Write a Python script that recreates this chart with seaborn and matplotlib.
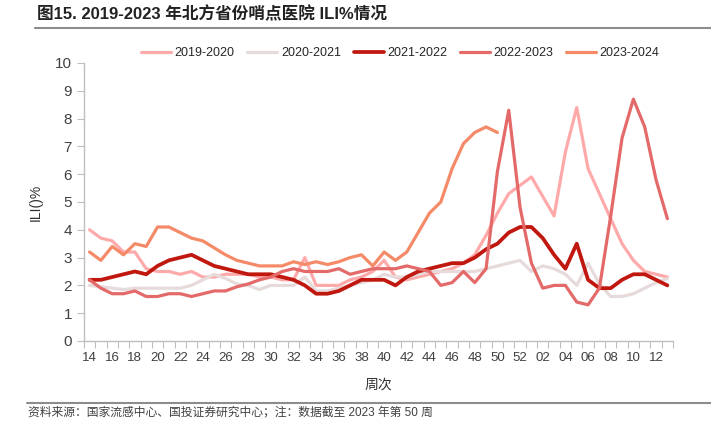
import numpy as np
import pandas as pd
import matplotlib
matplotlib.use("Agg")
import matplotlib.pyplot as plt
from matplotlib.lines import Line2D
import seaborn as sns

# week order: 14..52 then 01..13
weeks = [f"{w:02d}" for w in list(range(14, 53)) + list(range(1, 14))]
seasons = ["2019-2020", "2020-2021", "2021-2022", "2022-2023", "2023-2024"]

s1920 = [4.0, 3.7, 3.6, 3.2, 3.2, 2.6, 2.5, 2.5, 2.4, 2.5, 2.3,
         2.3, 2.4, 2.4, 2.4, 2.3, 2.3, 2.2, 2.2, 3.0, 2.0,
         2.0, 2.0, 2.2, 2.3, 2.5, 2.9, 2.3, 2.2, 2.3, 2.4,
         2.5, 2.6, 2.8, 3.1, 3.8, 4.6, 5.3, 5.6,
         5.9, 5.2, 4.5, 6.8, 8.4, 6.2, 5.3, 4.4, 3.5, 2.9, 2.5, 2.4, 2.3]
s2021 = [2.0, 1.95, 1.9, 1.85, 1.9, 1.9, 1.9, 1.9, 1.9, 2.0, 2.2,
         2.4, 2.25, 2.05, 2.0, 1.85, 2.0, 2.0, 2.0, 2.3, 1.8,
         1.8, 1.9, 2.0, 2.1, 2.2, 2.4, 2.3, 2.3, 2.4, 2.5,
         2.5, 2.5, 2.5, 2.5, 2.6, 2.7, 2.8, 2.9,
         2.5, 2.7, 2.6, 2.4, 2.0, 2.8, 2.05, 1.6, 1.6, 1.7, 1.9, 2.1, 2.25]
s2122 = [2.2, 2.2, 2.3, 2.4, 2.5, 2.4, 2.7, 2.9, 3.0, 3.1, 2.9,
         2.7, 2.6, 2.5, 2.4, 2.4, 2.4, 2.3, 2.2, 2.0, 1.7,
         1.7, 1.8, 2.0, 2.2, 2.2, 2.2, 2.0, 2.3, 2.5, 2.6,
         2.7, 2.8, 2.8, 3.0, 3.3, 3.5, 3.9, 4.1,
         4.1, 3.7, 3.1, 2.6, 3.5, 2.2, 1.9, 1.9, 2.2, 2.4, 2.4, 2.2, 2.0]
s2223 = [2.2, 1.9, 1.7, 1.7, 1.8, 1.6, 1.6, 1.7, 1.7, 1.6, 1.7,
         1.8, 1.8, 1.95, 2.05, 2.2, 2.3, 2.5, 2.6, 2.5, 2.5,
         2.5, 2.6, 2.4, 2.5, 2.6, 2.6, 2.6, 2.7, 2.6, 2.5,
         2.0, 2.1, 2.5, 2.1, 2.6, 6.1, 8.3, 4.8,
         2.8, 1.9, 2.0, 2.0, 1.4, 1.3, 1.9, 4.5, 7.3, 8.7, 7.7, 5.8, 4.4]
s2324 = [3.2, 2.9, 3.4, 3.1, 3.5, 3.4, 4.1, 4.1, 3.9, 3.7, 3.6,
         3.35, 3.1, 2.9, 2.8, 2.7, 2.7, 2.7, 2.85, 2.75, 2.85,
         2.75, 2.85, 3.0, 3.1, 2.7, 3.2, 2.9, 3.2, 3.9, 4.6,
         5.0, 6.2, 7.1, 7.5, 7.7, 7.5] + [np.nan] * 15

colors = ["#FFAAAA", "#E6DADA", "#C0180F", "#E46A6A", "#F58A68"]

sns.set_theme(style="white")
plt.rcParams['font.family'] = ['Liberation Sans', 'Noto Sans CJK SC']

rows = []
for name, vals in zip(seasons, [s1920, s2021, s2122, s2223, s2324]):
    for i, v in enumerate(vals):
        rows.append({"pos": i, "ili": v, "season": name})
df = pd.DataFrame(rows).dropna()

fig = plt.figure(figsize=(7.11, 4.38), dpi=100)
ax = fig.add_axes([0.118, 0.2215, 0.8286, 0.6347])

sns.lineplot(data=df, x="pos", y="ili", hue="season", hue_order=seasons,
             palette=colors, linewidth=2.3, errorbar=None, ax=ax)
for line in ax.lines:
    if line.get_color().upper() == "#C0180F":
        line.set_linewidth(2.7)

ax.set_xlim(-0.5, len(weeks) - 0.5)
ax.set_ylim(0, 10)
ax.set_yticks(range(0, 11))
ax.set_xticks(range(0, len(weeks), 2))
ax.set_xticklabels(weeks[::2])
ax.set_xticks(np.arange(-0.5, len(weeks), 1), minor=True)
ax.tick_params(axis="x", which="major", length=0, labelsize=9.5, pad=8, colors="#404040")
ax.tick_params(axis="x", which="minor", length=5, width=0.8, color="#BFBFBF", bottom=True)
ax.tick_params(axis="y", length=5, width=0.8, color="#BFBFBF", labelsize=11,
               labelcolor="#404040", left=True)

for s in ["top", "right"]:
    ax.spines[s].set_visible(False)
for s in ["left", "bottom"]:
    ax.spines[s].set_color("#BFBFBF")
    ax.spines[s].set_linewidth(1)

ax.set_xlabel("周次", fontsize=10, color="#303030")
ax.xaxis.set_label_coords(0.5, -0.133)
ax.set_ylabel("ILI()%", fontsize=10, color="#303030")
ax.yaxis.set_label_coords(-0.07, 0.5)

handles, labels = ax.get_legend_handles_labels()
ax.legend(handles, labels, ncol=5, frameon=False, fontsize=9,
          loc="center", bbox_to_anchor=(0.537, 1.036), handlelength=2.4,
          columnspacing=1.0, handletextpad=0.3)

fig.text(0.052, 0.968, "图15. 2019-2023 年北方省份哨点医院 ILI%情况",
         fontsize=12, fontweight="bold", va="center", color="#222222")
fig.add_artist(Line2D([0.049, 1.0], [0.936, 0.936], color="#8C8C8C", lw=1.5))
fig.add_artist(Line2D([0.038, 1.0], [0.08, 0.08], color="#8C8C8C", lw=1.5))
fig.text(0.04, 0.058, "资料来源：国家流感中心、国投证券研究中心；注：数据截至 2023 年第 50 周",
         fontsize=8.5, va="center", color="#404040")

fig.savefig("out.png", dpi=100)
